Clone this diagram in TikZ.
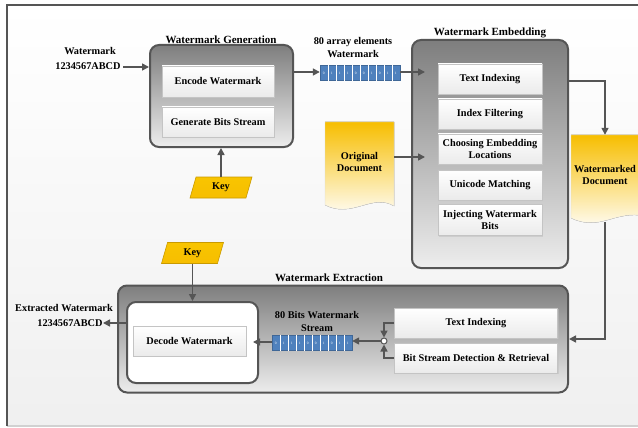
\documentclass[tikz,border=0pt]{standalone}
\usepackage{fontspec}
\setmainfont{Liberation Serif}
\usetikzlibrary{arrows.meta,shapes.geometric,calc,shadows}
\definecolor{edgec}{HTML}{555555}
\definecolor{bigtop}{HTML}{7E7E7E}
\definecolor{bigbot}{HTML}{EDEDED}
\definecolor{gold}{HTML}{F7BE00}
\definecolor{goldd}{HTML}{C99A00}
\definecolor{bitblue}{HTML}{4F81BD}
\definecolor{inbord}{HTML}{C4C4C4}
\tikzset{
  bigbox/.style={draw=edgec,line width=2pt,rounded corners=9pt,top color=bigtop,bottom color=bigbot,minimum width=#1},
  innerbox/.style={draw=inbord,line width=0.8pt,top color=white,bottom color=black!8,
     drop shadow={shadow xshift=1.2pt,shadow yshift=-1.2pt,fill=black!25},
     align=center,inner sep=0pt},
  keybox/.style={shape=trapezium,trapezium left angle=56,trapezium right angle=124,trapezium stretches body,
     draw=goldd,line width=0.6pt,top color=gold!90!yellow,bottom color=gold,minimum width=62pt,minimum height=21pt,inner sep=0pt},
  arr/.style={draw=bitblue!80!black,line width=0.4pt,fill=bitblue,minimum width=80pt,minimum height=15pt,inner sep=0pt},
  conn/.style={draw=edgec,line width=1.6pt,-{Triangle[length=7pt,width=7pt]}},
  lbl/.style={align=center,inner sep=0pt},
  title/.style={inner sep=0pt,font=\bfseries\fontsize{11}{12}\selectfont},
  docfill/.style={top color=gold,bottom color=white,draw=black!15,line width=0.4pt},
}
\newcommand\bitarr[2]{%
  \node[arr] (#1) at (#2) {};
  \foreach \i in {1,...,9} \draw[white,line width=0.5pt] ($(#1.north west)+(\i*8,0)$) -- ($(#1.south west)+(\i*8,0)$);
  \foreach \d [count=\i] in {0,1,1,1,0,0,1,0,1,1}
    \node[inner sep=0pt,text=white,font=\fontsize{3.5}{4}\selectfont] (#1-\i) at ($(#1.west)+(\i*8-4,0)$) {\d};
}
\begin{document}
\begin{tikzpicture}[x=1pt,y=-1pt,font=\bfseries\fontsize{10.3}{11.5}\selectfont]
\useasboundingbox (0,0) rectangle (638,428);
% background and frame
\fill[top color=white,bottom color=black!6] (7,5) rectangle (645,426);
\draw[black!18,line width=1.2pt] (7,426) -- (645,426);
\draw[edgec,line width=2pt] (7,426) -- (7,5) -- (645,5);

% ---------- Watermark Generation
\node[bigbox=143pt,minimum height=102pt] (gen) at (221.5,96) {};
\node[title] (gent) at (221,40) {Watermark Generation};
\node[innerbox,minimum width=112pt,minimum height=31pt] (enc) at (218,81.5) {Encode Watermark};
\node[innerbox,minimum width=112pt,minimum height=30pt] (gbs) at (218,122) {Generate Bits Stream};
\node[keybox] (key1) at (221,187.5) {Key};
\draw[conn] (key1.north -| 221,0) -- (gen.south -| 221,0);

\node[lbl] (wm1) at (90,51) {Watermark};
\node[lbl] (wm2) at (88,66) {1234567ABCD};
\coordinate (wm2e) at (123,67);
\draw[conn] (wm2e) -- (gen.west |- wm2e);

% array 1
\bitarr{arr1}{360,73}
\node[lbl] (arl1) at (353,42) {80 array elements};
\node[lbl] (arl2) at (353,54) {Watermark};
\draw[conn] (gen.east |- 0,72) -- (arr1.west |- 0,72);

% ---------- Watermark Embedding
\node[bigbox=156pt,minimum height=228pt] (emb) at (490,154) {};
\node[title] (embt) at (490,33) {Watermark Embedding};
\node[innerbox,minimum width=104pt,minimum height=30pt] (ti1) at (490,79) {Text Indexing};
\node[innerbox,minimum width=104pt,minimum height=30pt] (if) at (490,114) {Index Filtering};
\node[innerbox,minimum width=104pt,minimum height=30pt] (ce) at (490,149) {Choosing Embedding\\Locations};
\node[innerbox,minimum width=104pt,minimum height=30pt] (um) at (490,185) {Unicode Matching};
\node[innerbox,minimum width=104pt,minimum height=31pt] (ij) at (490,220) {Injecting Watermark\\Bits};
\coordinate (embin1) at (425,72);
\coordinate (embin2) at (425,157);
\draw[conn] (arr1.east |- 0,72) -- (embin1);

% original document
\fill[docfill] (325,122) -- (394,122) -- (394,206) .. controls (372,193) and (352,219) .. (325,205) -- cycle;
\node[lbl,minimum width=69pt,minimum height=80pt] (orig) at (359.5,162) {Original\\Document};
\draw[conn] (orig.east |- embin2) -- (embin2);

% watermarked document
\fill[docfill] (571,135) -- (645,135) -- (645,216) .. controls (615,210) and (600,232) .. (571,218) -- cycle;
\node[lbl,minimum width=68pt,minimum height=80pt] (wmd) at (605,175) {Watermarked\\Document};
\draw[conn] (emb.east |- 0,81) -| (wmd.north);

% ---------- Watermark Extraction
\node[bigbox=450pt,minimum height=107pt] (ext) at (343,339) {};
\node[title] (extt) at (329,278) {Watermark Extraction};
\node[draw=edgec,line width=2pt,rounded corners=9pt,fill=white,minimum width=131pt,minimum height=81pt] (dwb) at (192.5,342.5) {};
\node[innerbox,minimum width=113pt,minimum height=30pt] (dec) at (189.5,341) {Decode Watermark};
\node[keybox] (key2) at (192.5,253) {Key};
\draw[conn] (key2.south) -- (dwb.north -| key2.south);

\node[lbl] (ew1) at (64,308) {Extracted Watermark};
\node[lbl] (ew2) at (70,323) {1234567ABCD};
\coordinate (ew2e) at (103,323);
\draw[conn] (dwb.west |- ew2e) -- (ew2e);

\node[innerbox,minimum width=163pt,minimum height=30pt] (ti2) at (476,323) {Text Indexing};
\node[innerbox,minimum width=163pt,minimum height=30pt] (bsd) at (476,358) {Bit Stream Detection \& Retrieval};
\node[circle,draw=edgec,line width=1pt,fill=white,inner sep=0pt,minimum size=6pt] (jn) at (384,341) {};
\draw[conn] (ti2.west) -| (jn.north);
\draw[conn] (bsd.west) -| (jn.south);

\bitarr{arr2}{312,343}
\node[lbl] (bl1) at (317,315) {80 Bits Watermark};
\node[lbl] (bl2) at (317,328) {Stream};
\draw[conn] (jn.west) -- (arr2.east |- jn.west);
\coordinate (decin) at (253,342);
\draw[conn] (arr2.west |- decin) -- (decin);

\coordinate (wmdbot) at (605,222);
\draw[conn] (wmdbot) |- (ext.east |- 0,339);
\end{tikzpicture}
\end{document}
